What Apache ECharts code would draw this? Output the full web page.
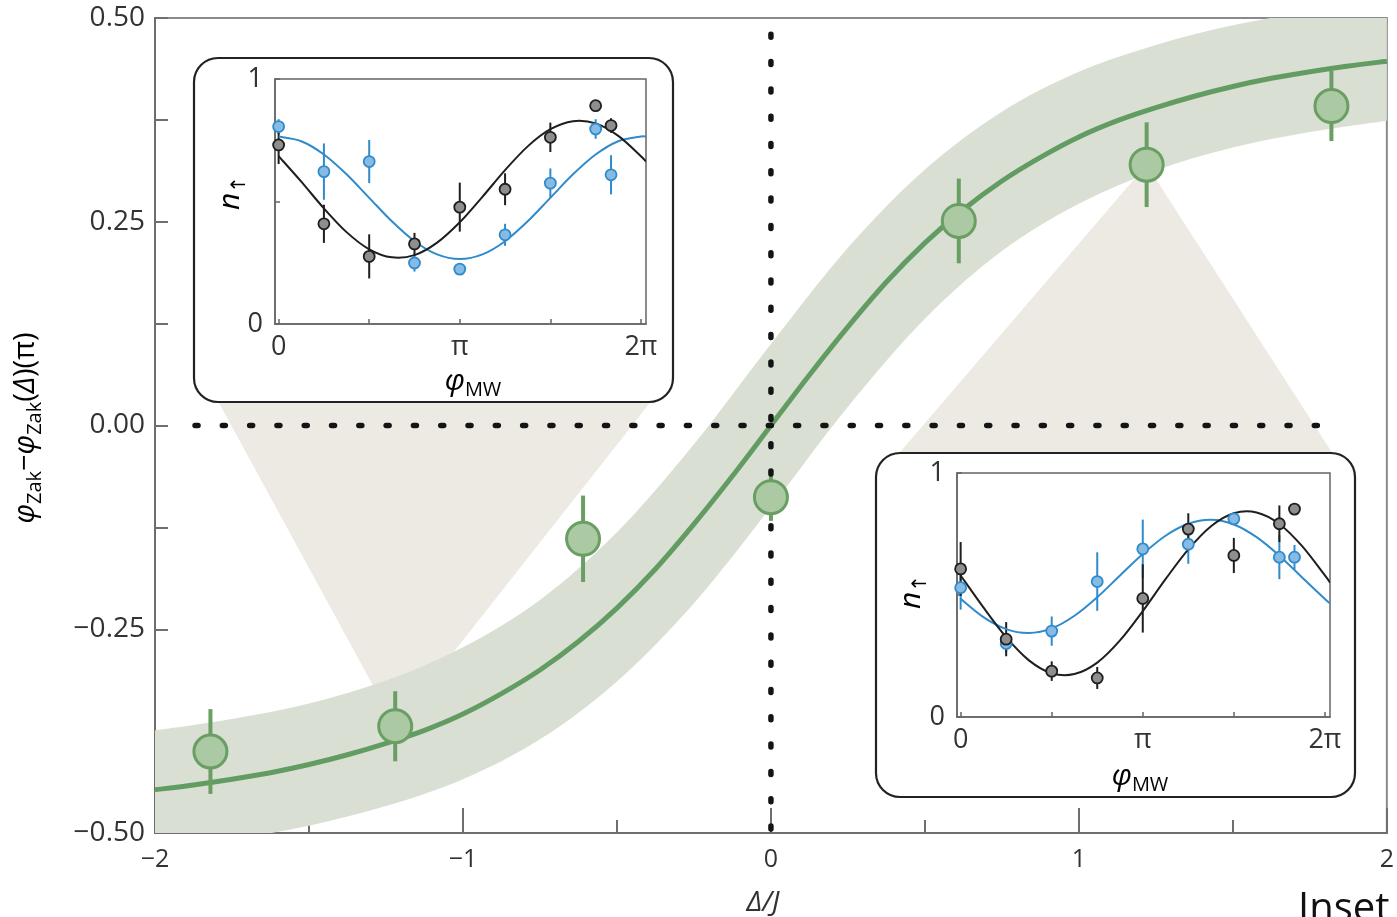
<!DOCTYPE html>
<html>
<head>
<meta charset="utf-8">
<script src="https://cdn.jsdelivr.net/npm/echarts@6/dist/echarts.min.js"></script>
<style>
  html, body { margin: 0; padding: 0; background: #fff; }
  #chart { width: 1397px; height: 917px; }
</style>
</head>
<body>
<div id="chart"></div>
<script>
// ---- Main panel: Zak phase difference versus detuning Δ/J ----
const detuning = [-1.82, -1.22, -0.61, 0, 0.61, 1.22, 1.82];
const zakDiff  = [-0.400, -0.369, -0.139, -0.088, 0.251, 0.320, 0.392];
const zakErr   = [0.052, 0.043, 0.053, 0.029, 0.052, 0.052, 0.043];

// theory curve
const theoryX = [-2, -1.875, -1.75, -1.625, -1.5, -1.375, -1.25, -1.125, -1, -0.875, -0.75, -0.625,
                 -0.5, -0.375, -0.25, -0.125, 0, 0.125, 0.25, 0.375, 0.5, 0.625, 0.75, 0.875,
                 1, 1.125, 1.25, 1.375, 1.5, 1.625, 1.75, 1.875, 2];
const theoryY = [-0.447, -0.441, -0.434, -0.426, -0.416, -0.404, -0.390, -0.374, -0.354, -0.329, -0.300, -0.265,
                 -0.224, -0.176, -0.121, -0.062, 0, 0.062, 0.121, 0.176, 0.224, 0.265, 0.300, 0.329,
                 0.354, 0.374, 0.390, 0.404, 0.416, 0.426, 0.434, 0.441, 0.447];

// shaded uncertainty band around the theory curve
const bandX    = [-2, -1.75, -1.5, -1.25, -1, -0.75, -0.5, -0.25, 0, 0.25, 0.5, 0.75, 1, 1.25, 1.5, 1.75, 2];
const bandLow  = [-0.520, -0.508, -0.491, -0.467, -0.434, -0.385, -0.314, -0.218, -0.100, 0.023, 0.131, 0.214, 0.272, 0.313, 0.341, 0.360, 0.374];
const bandHigh = [-0.374, -0.360, -0.341, -0.313, -0.272, -0.214, -0.131, -0.023, 0.100, 0.218, 0.314, 0.385, 0.434, 0.467, 0.491, 0.508, 0.520];

// dotted guides through the origin
const guideV = [[0, 0.48], [0, -0.5]];
const guideH = [[-1.87, 0], [1.83, 0]];

const xTickValues = [-2, -1, 0, 1, 2];
const xTickLabels = ['−2', '−1', '0', '1', '2'];
const yTickValues = [-0.5, -0.25, 0, 0.25, 0.5];
const yTickLabels = ['−0.50', '−0.25', '0.00', '0.25', '0.50'];

// ---- Insets: n↑ versus microwave phase (phase in units of π) ----
const phaseTicks = [0, 0.5, 1, 1.5, 2];
const phaseLabelValues = [0, 1, 2];
const phaseLabels = ['0', 'π', '2π'];
const fitPhase = [0, 0.125, 0.25, 0.375, 0.5, 0.625, 0.75, 0.875, 1, 1.125, 1.25, 1.375,
                  1.5, 1.625, 1.75, 1.875, 2, 2.028];

// upper-left inset
const insetA_phase    = [0, 0.25, 0.5, 0.75, 1, 1.25, 1.5, 1.75, 1.835];
const insetA_black    = [0.731, 0.409, 0.276, 0.327, 0.477, 0.55, 0.762, 0.891, 0.81];
const insetA_blackErr = [0.078, 0.078, 0.09, 0.045, 0.1, 0.065, 0.06, 0, 0.03];
const insetA_blue     = [0.806, 0.622, 0.663, 0.249, 0.224, 0.364, 0.575, 0.796, 0.609];
const insetA_blueErr  = [0.03, 0.115, 0.088, 0.035, 0, 0.045, 0.06, 0.04, 0.08];
const insetA_blackFit = [0.685, 0.581, 0.472, 0.375, 0.305, 0.272, 0.281, 0.332, 0.415, 0.519,
                         0.628, 0.725, 0.795, 0.828, 0.819, 0.768, 0.685, 0.663];
const insetA_blueFit  = [0.765, 0.746, 0.692, 0.611, 0.515, 0.419, 0.338, 0.284, 0.265, 0.284,
                         0.338, 0.419, 0.515, 0.611, 0.692, 0.746, 0.765, 0.764];

// lower-right inset
const insetB_phase    = [0, 0.25, 0.5, 0.75, 1, 1.25, 1.5, 1.75, 1.833];
const insetB_black    = [0.607, 0.319, 0.188, 0.16, 0.486, 0.77, 0.662, 0.792, 0.852];
const insetB_blackErr = [0.11, 0.07, 0.04, 0.045, 0.14, 0.065, 0.072, 0.075, 0];
const insetB_blue     = [0.53, 0.301, 0.352, 0.555, 0.689, 0.708, 0.812, 0.655, 0.655];
const insetB_blueErr  = [0.09, 0.035, 0.06, 0.12, 0.12, 0.08, 0.02, 0.09, 0.05];
const insetB_blackFit = [0.580, 0.449, 0.327, 0.232, 0.179, 0.176, 0.223, 0.314, 0.434, 0.565,
                         0.687, 0.782, 0.835, 0.838, 0.791, 0.700, 0.580, 0.551];
const insetB_blueFit  = [0.484, 0.409, 0.360, 0.344, 0.363, 0.415, 0.491, 0.580, 0.668, 0.743,
                         0.792, 0.808, 0.789, 0.737, 0.661, 0.572, 0.484, 0.466];

// ---- styling ----
const FONT = "'Open Sans', 'Noto Sans', 'DejaVu Sans', sans-serif";
const TXT = '#333';
const AXIS = '#6e6e6e';
const GREEN = '#639c62';
const GREEN_EDGE = '#6a9e64';
const GREEN_FILL = '#abc9a2';
const BAND = '#d9e0d3';
const WEDGE = '#edeae4';
const BLUE = '#2f8bcb';
const BLUE_FILL = '#88bbe4';
const BLACK = '#1e1e1e';
const BLACK_FILL = '#8e8e8e';

// inset frames (rounded boxes) and the wedge bases that tuck under them
const insetBoxes = [
  { x: 194, y: 58, w: 479, h: 344 },
  { x: 876, y: 453, w: 479, h: 344 }
];
const wedgeBases = [
  [[212, 390], [660, 390]],
  [[889, 465], [1340, 465]]
];

const zip = (xs, ys) => xs.map((x, i) => [x, ys[i]]);
const zip3 = (xs, ys, es) => xs.map((x, i) => [x, ys[i], es[i]]);

// cubic (Catmull-Rom style) path segments through pixel points
function curveSegments(pts) {
  let d = '';
  for (let i = 0; i < pts.length - 1; i++) {
    const p0 = pts[i - 1] || pts[i];
    const p1 = pts[i];
    const p2 = pts[i + 1];
    const p3 = pts[i + 2] || p2;
    const c1 = [p1[0] + (p2[0] - p0[0]) / 6, p1[1] + (p2[1] - p0[1]) / 6];
    const c2 = [p2[0] - (p3[0] - p1[0]) / 6, p2[1] - (p3[1] - p1[1]) / 6];
    d += ` C${c1[0]},${c1[1]} ${c2[0]},${c2[1]} ${p2[0]},${p2[1]}`;
  }
  return d;
}

// a smooth stroked curve through (xs, ys) in a given cartesian grid
function smoothCurve(name, idx, xs, ys, color, width, z) {
  return {
    name, type: 'custom', xAxisIndex: idx, yAxisIndex: idx, z, clip: true, silent: true,
    data: [[xs[0], ys[0]]], encode: { x: 0, y: 1 },
    renderItem(params, api) {
      const pts = xs.map((x, i) => api.coord([x, ys[i]]));
      const d = `M${pts[0][0]},${pts[0][1]}` + curveSegments(pts);
      return { type: 'path', shape: { pathData: d },
               style: { fill: null, stroke: color, lineWidth: width, lineJoin: 'round' } };
    }
  };
}

function errorBars(name, idx, data, color, width, z) {
  return {
    name, type: 'custom', xAxisIndex: idx, yAxisIndex: idx, z,
    data, encode: { x: 0, y: 1 }, clip: false, silent: true,
    renderItem(params, api) {
      const x = api.value(0), y = api.value(1), e = api.value(2);
      if (!e) return null;
      const p1 = api.coord([x, y - e]);
      const p2 = api.coord([x, y + e]);
      return {
        type: 'line',
        shape: { x1: p1[0], y1: p1[1], x2: p2[0], y2: p2[1] },
        style: { stroke: color, lineWidth: width, lineCap: 'butt' }
      };
    }
  };
}

function dots(name, idx, data, fill, edge, size, edgeW, z) {
  return {
    name, type: 'scatter', xAxisIndex: idx, yAxisIndex: idx, z,
    data, symbol: 'circle', symbolSize: size, silent: true,
    itemStyle: { color: fill, borderColor: edge, borderWidth: edgeW, opacity: 1 }
  };
}

function insetAxes(gridIndex) {
  return {
    x: {
      type: 'value', gridIndex, min: -0.02, max: 2.028, z: 15,
      axisLine: { show: true, onZero: false, lineStyle: { color: '#666', width: 1.5 } },
      axisTick: { show: true, inside: true, length: 5, customValues: phaseTicks,
                  lineStyle: { color: '#666', width: 1.5 } },
      axisLabel: { customValues: phaseLabelValues, margin: 10, fontSize: 27, color: TXT, fontFamily: FONT,
                   formatter: v => { const k = phaseLabelValues.indexOf(v); return k >= 0 ? phaseLabels[k] : ''; } },
      splitLine: { show: false }
    },
    y: {
      type: 'value', gridIndex, min: 0, max: 1, interval: 0.5, z: 15,
      axisLine: { show: true, onZero: false, lineStyle: { color: '#666', width: 1.5 } },
      axisTick: { show: true, inside: true, length: 5, lineStyle: { color: '#666', width: 1.5 } },
      axisLabel: { margin: 12, fontSize: 27, color: TXT, fontFamily: FONT,
                   formatter: v => (v === 0 || v === 1) ? String(v) : '' },
      splitLine: { show: false }
    }
  };
}

const insetA = insetAxes(1);
const insetB = insetAxes(2);

const richAxis = {
  it:  { fontSize: 29, fontStyle: 'italic', fontFamily: FONT, color: TXT, lineHeight: 38 },
  n:   { fontSize: 29, fontFamily: FONT, color: TXT, lineHeight: 38 },
  sub: { fontSize: 20, fontFamily: FONT, color: TXT, verticalAlign: 'bottom' }
};
const richInset = {
  it:  { fontSize: 30, fontStyle: 'italic', fontFamily: FONT, color: TXT, lineHeight: 38 },
  sub: { fontSize: 20, fontFamily: FONT, color: TXT, verticalAlign: 'bottom' }
};

const option = {
  animation: false,
  backgroundColor: '#fff',
  textStyle: { fontFamily: FONT },
  grid: [
    { left: 155, top: 18, width: 1240, height: 815, show: true, borderColor: '#8a8a8a', borderWidth: 2 },
    { left: 275, top: 79, width: 371, height: 245, show: true, borderColor: '#666', borderWidth: 1.5, z: 15 },
    { left: 957, top: 473, width: 373, height: 244, show: true, borderColor: '#666', borderWidth: 1.5, z: 15 }
  ],
  xAxis: [
    {
      type: 'value', gridIndex: 0, min: -2, max: 2, interval: 1,
      axisLine: { show: true, onZero: false, lineStyle: { color: AXIS, width: 2 } },
      axisTick: { show: true, inside: true, length: 25, lineStyle: { color: AXIS, width: 2 } },
      minorTick: { show: true, splitNumber: 2, length: 13, lineStyle: { color: AXIS, width: 2 } },
      axisLabel: { margin: 14, fontSize: 25, color: TXT, fontFamily: FONT,
                   formatter: v => { const k = xTickValues.indexOf(v); return k >= 0 ? xTickLabels[k] : ''; } },
      splitLine: { show: false }, minorSplitLine: { show: false }
    },
    insetA.x, insetB.x
  ],
  yAxis: [
    {
      type: 'value', gridIndex: 0, min: -0.5, max: 0.5, interval: 0.25,
      axisLine: { show: true, onZero: false, lineStyle: { color: AXIS, width: 2 } },
      axisTick: { show: true, inside: true, length: 13, lineStyle: { color: AXIS, width: 2 } },
      minorTick: { show: true, splitNumber: 2, length: 13, lineStyle: { color: AXIS, width: 2 } },
      axisLabel: { margin: 10, fontSize: 28, color: TXT, fontFamily: FONT,
                   formatter: v => { const k = yTickValues.findIndex(t => Math.abs(t - v) < 1e-9); return k >= 0 ? yTickLabels[k] : ''; } },
      splitLine: { show: false }, minorSplitLine: { show: false }
    },
    insetA.y, insetB.y
  ],
  series: [
    // pale wedges linking two measured points to their insets
    {
      name: 'wedges', type: 'custom', xAxisIndex: 0, yAxisIndex: 0, z: 1, clip: false, silent: true,
      data: [[detuning[1], zakDiff[1], 0], [detuning[5], zakDiff[5], 1]],
      encode: { x: 0, y: 1 },
      renderItem(params, api) {
        const apex = api.coord([api.value(0), api.value(1)]);
        const base = wedgeBases[api.value(2)];
        return {
          type: 'polygon',
          shape: { points: [apex, base[0], base[1]] },
          style: { fill: WEDGE }
        };
      }
    },
    // uncertainty band between its lower and upper edges
    {
      name: 'band', type: 'custom', xAxisIndex: 0, yAxisIndex: 0, z: 2, clip: true, silent: true,
      data: [[bandX[0], bandLow[0]]],
      encode: { x: 0, y: 1 },
      renderItem(params, api) {
        const top = bandX.map((x, i) => api.coord([x, bandHigh[i]]));
        const bottom = bandX.map((x, i) => api.coord([x, bandLow[i]])).reverse();
        const d = `M${top[0][0]},${top[0][1]}` + curveSegments(top) +
                  ` L${bottom[0][0]},${bottom[0][1]}` + curveSegments(bottom) + ' Z';
        return { type: 'path', shape: { pathData: d }, style: { fill: BAND } };
      }
    },
    smoothCurve('theory', 0, theoryX, theoryY, GREEN, 5, 3),
    errorBars('zakErr', 0, zip3(detuning, zakDiff, zakErr), GREEN_EDGE, 4, 3),
    {
      name: 'guideV', type: 'line', xAxisIndex: 0, yAxisIndex: 0, z: 4, symbol: 'none', silent: true,
      data: guideV, lineStyle: { color: '#141414', width: 5.5, type: [3, 24.3], cap: 'round' }
    },
    {
      name: 'guideH', type: 'line', xAxisIndex: 0, yAxisIndex: 0, z: 4, symbol: 'none', silent: true,
      data: guideH, lineStyle: { color: '#141414', width: 5.5, type: [3, 24.3], cap: 'round' }
    },
    dots('zak', 0, zip(detuning, zakDiff), GREEN_FILL, GREEN_EDGE, 33, 3, 5),

    // upper-left inset
    errorBars('A blue err', 1, zip3(insetA_phase, insetA_blue, insetA_blueErr), BLUE, 2, 20),
    errorBars('A black err', 1, zip3(insetA_phase, insetA_black, insetA_blackErr), BLACK, 2, 20),
    smoothCurve('A blue fit', 1, fitPhase, insetA_blueFit, BLUE, 2, 21),
    smoothCurve('A black fit', 1, fitPhase, insetA_blackFit, BLACK, 2, 21),
    dots('A blue', 1, zip(insetA_phase, insetA_blue), BLUE_FILL, BLUE, 11, 1.8, 22),
    dots('A black', 1, zip(insetA_phase, insetA_black), BLACK_FILL, BLACK, 11, 1.8, 22),

    // lower-right inset
    errorBars('B blue err', 2, zip3(insetB_phase, insetB_blue, insetB_blueErr), BLUE, 2, 20),
    errorBars('B black err', 2, zip3(insetB_phase, insetB_black, insetB_blackErr), BLACK, 2, 20),
    smoothCurve('B blue fit', 2, fitPhase, insetB_blueFit, BLUE, 2, 21),
    smoothCurve('B black fit', 2, fitPhase, insetB_blackFit, BLACK, 2, 21),
    dots('B blue', 2, zip(insetB_phase, insetB_blue), BLUE_FILL, BLUE, 11, 1.8, 22),
    dots('B black', 2, zip(insetB_phase, insetB_black), BLACK_FILL, BLACK, 11, 1.8, 22)
  ],
  graphic: {
    elements: [
      ...insetBoxes.map(b => ({
        type: 'rect', z: 10, silent: true,
        shape: { x: b.x, y: b.y, width: b.w, height: b.h, r: 24 },
        style: { fill: '#fff', stroke: '#222', lineWidth: 2.2 }
      })),
      {
        type: 'text', x: 26, y: 428, rotation: Math.PI / 2, z: 30, silent: true,
        style: {
          text: '{it|φ}{sub|Zak}{n|−}{it|φ}{sub|Zak}{n|(}{it|Δ}{n|)(π)}',
          rich: richAxis, align: 'center', verticalAlign: 'middle'
        }
      },
      {
        type: 'text', x: 763, y: 903, z: 30, silent: true,
        style: { text: 'Δ/J', fontSize: 28, fontStyle: 'italic', fontFamily: FONT, fill: TXT,
                 align: 'center', verticalAlign: 'middle' }
      },
      {
        type: 'text', x: 1298, y: 890, z: 30, silent: true,
        style: { text: 'Inset', fontSize: 40, fontFamily: FONT, fill: '#111', align: 'left', verticalAlign: 'top' }
      },
      {
        type: 'text', x: 230, y: 193, rotation: Math.PI / 2, z: 30, silent: true,
        style: { text: '{it|n}{sub|↑}', rich: richInset, align: 'center', verticalAlign: 'middle' }
      },
      {
        type: 'text', x: 473, y: 381, z: 30, silent: true,
        style: { text: '{it|φ}{sub|MW}', rich: richInset, align: 'center', verticalAlign: 'middle' }
      },
      {
        type: 'text', x: 911, y: 592, rotation: Math.PI / 2, z: 30, silent: true,
        style: { text: '{it|n}{sub|↑}', rich: richInset, align: 'center', verticalAlign: 'middle' }
      },
      {
        type: 'text', x: 1140, y: 776, z: 30, silent: true,
        style: { text: '{it|φ}{sub|MW}', rich: richInset, align: 'center', verticalAlign: 'middle' }
      }
    ]
  }
};

const chart = echarts.init(document.getElementById('chart'), null, { renderer: 'canvas' });
chart.setOption(option);
</script>
</body>
</html>
